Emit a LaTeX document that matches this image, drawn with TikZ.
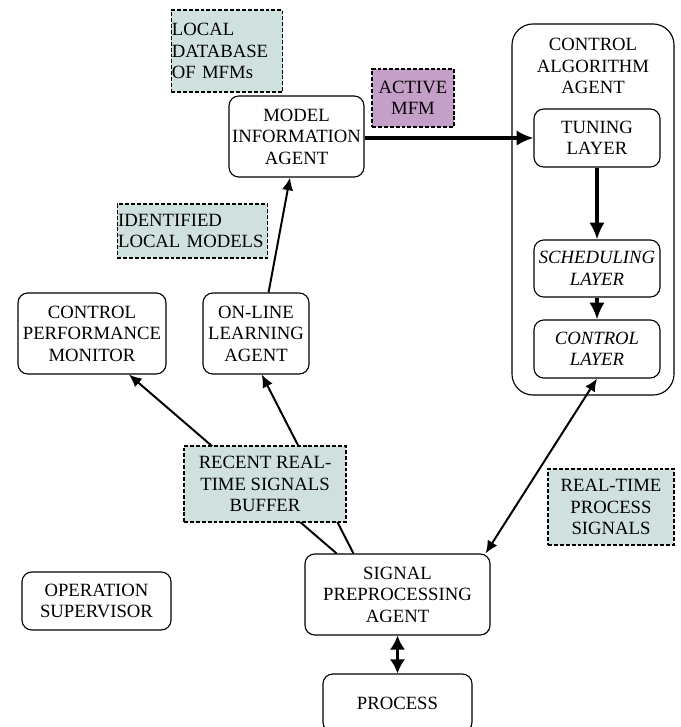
\documentclass[tikz,border=0pt]{standalone}
\usepackage{fontspec}
\setmainfont{Liberation Serif}
\usetikzlibrary{arrows.meta,positioning}
\definecolor{notefill}{RGB}{207,224,223}
\definecolor{mfmfill}{RGB}{196,160,200}
\tikzset{
    basic/.style  = {draw, black, rectangle, inner sep=1pt, align=center, font=\fontsize{13.3}{15.3}\selectfont},
    agent/.style  = {basic, rounded corners=7pt, line width=0.8pt, fill=white},
    outer/.style  = {basic, rounded corners=15pt, line width=0.8pt, fill=white},
    note/.style   = {basic, dash pattern=on 2.8pt off 1.4pt, line width=1pt, fill=notefill},
    mfm/.style    = {note, fill=mfmfill},
    title/.style  = {align=center, inner sep=1pt, font=\fontsize{13.3}{15.3}\selectfont},
    flow/.style   = {-{Latex[length=9pt,width=8pt]}, line width=1.4pt},
    mainflow/.style = {-{Latex[length=12pt,width=11pt]}, line width=2.2pt}
}
\begin{document}
\begin{tikzpicture}[x=0.025cm, y=-0.025cm]
	\useasboundingbox (0,0) rectangle (681,727);
	\clip (0,0) rectangle (681,727);
	% control algorithm agent
	\node[outer, minimum width=4.05cm, minimum height=9.275cm] (caa) at (593,209.5) {};
	\node[title] (caatitle) at (593,66) {CONTROL\\ALGORITHM\\AGENT};
	\node[agent, minimum width=3.15cm, minimum height=1.45cm] (tuning) at (597,138) {TUNING\\LAYER};
	\node[agent, minimum width=3.15cm, minimum height=1.425cm, font=\fontsize{13.3}{15.3}\selectfont\itshape] (sched) at (597,268.5) {SCHEDULING\\LAYER};
	\node[agent, minimum width=3.15cm, minimum height=1.45cm, font=\fontsize{13.3}{15.3}\selectfont\itshape] (ctrl) at (597,349) {CONTROL\\LAYER};
	% agents
	\node[agent, minimum width=3.375cm, minimum height=2.025cm] (mia) at (296.5,136.5) {MODEL\\INFORMATION\\AGENT};
	\node[agent, minimum width=3.7cm, minimum height=2.025cm] (cpm) at (92,333.5) {CONTROL\\PERFORMANCE\\MONITOR};
	\node[agent, minimum width=2.65cm, minimum height=2.025cm] (olla) at (256,333.5) {ON-LINE\\LEARNING\\AGENT};
	\node[agent, minimum width=3.725cm, minimum height=1.45cm] (ops) at (96.5,601) {OPERATION\\SUPERVISOR};
	\node[agent, minimum width=4.625cm, minimum height=2.025cm] (spa) at (397.5,594.5) {SIGNAL\\PREPROCESSING\\AGENT};
	\node[agent, minimum width=3.725cm, minimum height=1.45cm] (proc) at (397.5,703) {PROCESS};
	% information
	\node[note, text width=2.75cm, inner xsep=0.5pt, minimum height=2.05cm, align=left] (db) at (227,51) {LOCAL\\DATABASE\\OF MFMs};
	\node[mfm, minimum width=2.05cm, minimum height=1.45cm] (active) at (413,98) {ACTIVE\\MFM};
	\node[note, text width=3.72cm, inner xsep=0.5pt, minimum height=1.35cm, align=left] (ident) at (192.5,231) {IDENTIFIED\\LOCAL MODELS};
	\node[note, minimum width=3.15cm, minimum height=1.9cm] (rtps) at (611,507) {REAL-TIME\\PROCESS\\SIGNALS};
	% connectors
	\draw[mainflow] (mia.east |- tuning.west) -- (tuning.west);
	\draw[mainflow] (tuning) -- (sched);
	\draw[mainflow] (sched) -- (ctrl);
	\draw[flow] (olla.73) -- (mia.261);
	\draw[flow] (spa.146) -- (cpm.312);
	\draw[flow] (spa.137) -- (olla.278);
	\draw[flow, {Latex[length=9pt,width=8pt]}-{Latex[length=9pt,width=8pt]}] (spa.25) -- (ctrl.south);
	\draw[mainflow, {Latex[length=10pt,width=11pt]}-{Latex[length=10pt,width=11pt]}] (spa.south) -- (proc.north);
	\node[note, minimum width=4.05cm, minimum height=1.9cm] (buffer) at (265,484) {RECENT REAL-\\TIME SIGNALS\\BUFFER};
\end{tikzpicture}
\end{document}
